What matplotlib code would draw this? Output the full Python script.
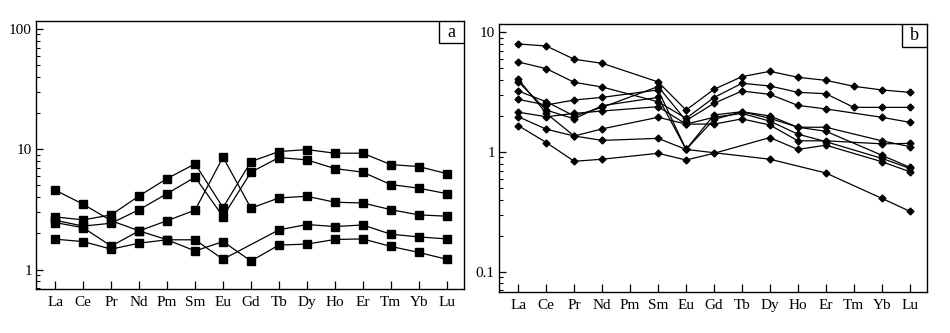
import numpy as np
import matplotlib.pyplot as plt
from matplotlib.ticker import LogLocator, FuncFormatter, NullFormatter
from matplotlib.patches import Rectangle

plt.rcParams['font.family'] = ['Liberation Serif', 'DejaVu Serif']

elements = ['La', 'Ce', 'Pr', 'Nd', 'Pm', 'Sm', 'Eu', 'Gd', 'Tb', 'Dy', 'Ho', 'Er', 'Tm', 'Yb', 'Lu']
nan = np.nan

# Panel a: chondrite-normalised REE patterns (5 samples)
a1 = [4.57, 3.49, 2.55, 2.10, 1.77, 1.43, 1.71, 1.18, 1.60, 1.63, 1.78, 1.80, 1.56, 1.39, 1.22]
a2 = [2.74, 2.59, 2.85, 4.10, 5.71, 7.56, 3.28, 7.90, 9.57, 9.94, 9.27, 9.27, 7.46, 7.18, 6.28]
a3 = [2.57, 2.30, 2.43, 3.15, 4.28, 5.86, 2.76, 6.45, 8.53, 8.16, 6.91, 6.45, 5.09, 4.75, 4.28]
a4 = [2.46, 2.23, 1.57, 2.10, 2.55, 3.12, 8.60, 3.24, 3.94, 4.07, 3.63, 3.58, 3.15, 2.85, 2.78]
a5 = [1.79, 1.71, 1.48, 1.66, 1.77, 1.77, 1.22, nan, 2.14, 2.37, 2.28, 2.35, 1.97, 1.87, 1.80]

# Panel b: 9 samples, Pm and most Tm not analysed
b1 = [7.99, 7.69, 5.95, 5.51, nan, 3.85, 2.24, 3.34, 4.26, 4.72, 4.21, 3.97, 3.54, 3.30, 3.15]
b2 = [5.65, 4.97, 3.82, 3.49, nan, 2.63, 1.91, 2.85, 3.75, 3.56, 3.15, 3.07, 2.36, 2.36, 2.36]
b3 = [3.23, 2.63, 2.00, 2.36, nan, 3.52, 1.83, 2.55, 3.23, 3.03, 2.45, 2.29, nan, 1.95, 1.77]
b4 = [2.75, 2.47, 2.72, 2.86, nan, 3.30, 1.05, 2.04, 2.17, 2.00, 1.61, 1.61, nan, 1.24, 1.11]
b5 = [3.87, 2.24, 1.89, 2.44, nan, 2.86, 1.05, 1.87, 2.17, 1.91, 1.61, 1.49, nan, 0.94, 0.745]
b6 = [2.15, 1.97, 2.10, 2.20, nan, 2.39, 1.71, 1.95, 2.10, 1.81, 1.41, 1.22, nan, 0.885, 0.73]
b7 = [4.05, 2.10, 1.36, 1.56, nan, 1.95, 1.71, 1.71, 1.89, 1.68, 1.24, 1.24, nan, 1.17, 1.18]
b8 = [1.66, 1.20, 0.836, 0.87, nan, 0.975, 0.857, 0.975, nan, 1.32, 1.05, 1.14, nan, 0.83, 0.685]
b9 = [1.97, 1.55, 1.36, 1.25, nan, 1.30, 1.05, nan, nan, 0.87, nan, 0.668, nan, 0.41, 0.32]

series_a = [a1, a2, a3, a4, a5]
series_b = [b1, b2, b3, b4, b5, b6, b7, b8, b9]

x = np.arange(len(elements))


def draw(ax, data, marker, ms):
    for s in data:
        s = np.array(s, dtype=float)
        ok = ~np.isnan(s)
        ax.plot(x[ok], s[ok], color='black', lw=0.9, marker=marker, ms=ms,
                mfc='black', mec='black')


def style(ax, ylim, tag):
    ax.set_yscale('log')
    ax.set_ylim(*ylim)
    ax.set_xlim(-0.69, 14.62)
    ax.set_xticks(x)
    ax.set_xticklabels(elements, fontsize=11)
    ax.yaxis.set_major_locator(LogLocator(base=10))
    ax.yaxis.set_minor_locator(LogLocator(base=10, subs=np.arange(2, 10)))
    ax.yaxis.set_major_formatter(FuncFormatter(lambda v, p: '%g' % v))
    ax.yaxis.set_minor_formatter(NullFormatter())
    ax.tick_params(axis='x', direction='in', length=6, width=0.9, pad=5)
    ax.tick_params(axis='y', which='major', direction='in', length=5, width=0.9,
                   pad=3, labelsize=11)
    ax.tick_params(axis='y', which='minor', direction='in', length=3, width=0.8)
    for sp in ax.spines.values():
        sp.set_linewidth(1.0)
    # letter in a box at the upper-right corner
    w, h = 0.058, 0.085
    ax.add_patch(Rectangle((1 - w, 1 - h), w, h, transform=ax.transAxes,
                           fc='white', ec='black', lw=1.0, zorder=5))
    ax.text(1 - w / 2, 1 - h / 2, tag, transform=ax.transAxes, ha='center',
            va='center', fontsize=13, zorder=6)


fig = plt.figure(figsize=(9.5, 3.33), dpi=100)
ax_a = fig.add_axes([0.0379, 0.132, 0.4505, 0.806])
ax_b = fig.add_axes([0.5253, 0.1231, 0.4505, 0.8057])

draw(ax_a, series_a, 's', 5.5)
style(ax_a, (0.69, 117), 'a')

draw(ax_b, series_b, 'D', 3.5)
style(ax_b, (0.0676, 11.8), 'b')

fig.savefig('out.png', dpi=100)
